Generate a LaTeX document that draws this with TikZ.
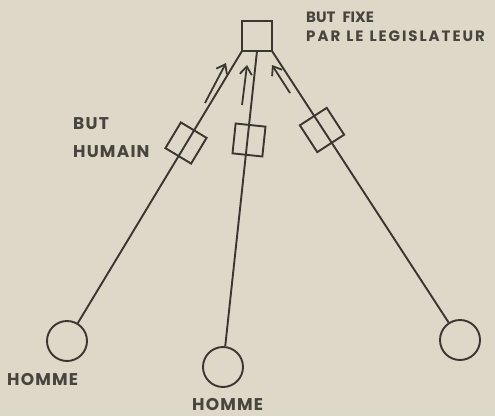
\documentclass[tikz,border=0pt]{standalone}
\usepackage{fontspec}
\setmainfont{Poppins}
\usetikzlibrary{arrows.meta}
\definecolor{paper}{RGB}{221,216,199}
\definecolor{ink}{RGB}{58,54,48}
\definecolor{txt}{RGB}{72,68,62}
\begin{document}
\begin{tikzpicture}[x=1pt,y=1pt,
  ln/.style={draw=ink,line width=1.9pt},
  box/.style={ln,minimum width=30pt,minimum height=30pt,inner sep=0pt,outer sep=0pt},
  man/.style={ln,circle,minimum size=40pt,inner sep=0pt},
  arr/.style={draw=ink,line width=1.8pt,-{Straight Barb[length=8pt,width=12pt]}},
  lbl/.style={text=txt,inner sep=0pt,anchor=base west,font=\bfseries\fontsize{17}{17}\selectfont\addfontfeatures{LetterSpace=7}},
  toplbl/.style={lbl,font=\bfseries\fontsize{15}{15}\selectfont\addfontfeatures{LetterSpace=#1}}]
\useasboundingbox (0,0) rectangle (495,416);
\fill[paper] (0,0) rectangle (495,416);
\node[box] (goal) at (257,380) {};
\node[man] (h1) at (67,75) {};
\node[man] (h2) at (223,49) {};
\node[man] (h3) at (460,76) {};
\draw[ln] (goal.south west) -- (h1);
\draw[ln] (goal.south) -- (h2);
\draw[ln] (goal.south east) -- (h3);
\node[box,rotate=-31] (b1) at (186,273) {};
\node[box,rotate=-6] (b2) at (249,276) {};
\node[box,minimum width=32pt,minimum height=32pt,rotate=33] (b3) at (322,286) {};
\coordinate (a1s) at (205,313); \coordinate (a1e) at (226,353);
\coordinate (a2s) at (242,311); \coordinate (a2e) at (247,351);
\coordinate (a3s) at (290,323); \coordinate (a3e) at (272,351);
\draw[arr] (a1s) -- (a1e);
\draw[arr] (a2s) -- (a2e);
\draw[arr] (a3s) -- (a3e);
\node[toplbl=0] (t1) at (306,393) {BUT\hspace{7pt}FIXE};
\node[toplbl=13] (t2) at (306,374) {PAR\hspace{6pt}LE\hspace{6pt}LEGISLATEUR};
\node[lbl] (t3) at (73,287) {BUT};
\node[lbl] (t4) at (73,259) {HUMAIN};
\node[lbl] (t5) at (7,31) {HOMME};
\node[lbl] (t6) at (192,6) {HOMME};
\end{tikzpicture}
\end{document}
